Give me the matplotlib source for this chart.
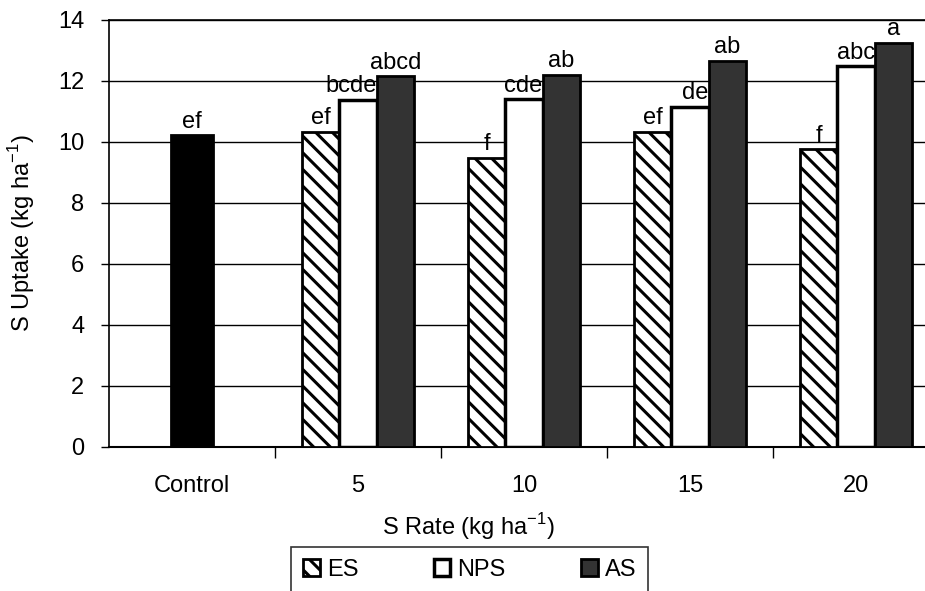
import numpy as np
import matplotlib
matplotlib.use('Agg')
import matplotlib.pyplot as plt

plt.rcParams['font.family'] = ['Liberation Sans', 'DejaVu Sans']
plt.rcParams['hatch.linewidth'] = 2.2

groups = ['Control', '5', '10', '15', '20']
control_val = 10.23
control_lab = 'ef'
es_vals = [10.33, 9.48, 10.33, 9.77]
nps_vals = [11.38, 11.41, 11.15, 12.49]
as_vals = [12.16, 12.20, 12.66, 13.25]
es_labs = ['ef', 'f', 'ef', 'f']
nps_labs = ['bcde', 'cde', 'de', 'abc']
as_labs = ['abcd', 'ab', 'ab', 'a']

fig = plt.figure(figsize=(9.25, 5.91), dpi=100)
ax = fig.add_axes([0.118, 0.2437, 0.882, 0.7225])

w = 0.225
x = np.arange(1, 5)
ax.bar(0, control_val, 0.25, color='black', edgecolor='black', linewidth=2, zorder=3)
b_es = ax.bar(x - w, es_vals, w, color='white', edgecolor='black', hatch='\\\\',
              linewidth=2, zorder=3, label='ES')
b_nps = ax.bar(x, nps_vals, w, color='white', edgecolor='black', linewidth=2.5,
               zorder=3, label='NPS')
b_as = ax.bar(x + w, as_vals, w, color='#333333', edgecolor='black', linewidth=2,
              zorder=3, label='AS')

fs = 17
gap = 0.08
ax.text(0, control_val + gap, control_lab, ha='center', va='bottom', fontsize=fs)
for i in range(4):
    ax.text(x[i] - w, es_vals[i] + gap, es_labs[i], ha='center', va='bottom', fontsize=fs)
    ax.text(x[i] + w / 2, nps_vals[i] + gap, nps_labs[i], ha='right', va='bottom', fontsize=fs)
    ax.text(x[i] + w, as_vals[i] + gap, as_labs[i], ha='center', va='bottom', fontsize=fs)

ax.set_xlim(-0.5, 4.416)
ax.set_ylim(0, 14)
ax.set_yticks(np.arange(0, 15, 2))
ax.yaxis.grid(True, color='black', linewidth=1)
ax.set_axisbelow(True)
ax.tick_params(axis='y', labelsize=fs, length=6, width=1, pad=12)

ax.set_xticks([0.5, 1.5, 2.5, 3.5])
ax.set_xticklabels([])
ax.set_xticks(np.arange(5), minor=True)
ax.set_xticklabels(groups, minor=True)
ax.tick_params(axis='x', which='major', length=8, width=1)
ax.tick_params(axis='x', which='minor', length=0, labelsize=fs, pad=20)

ax.spines['right'].set_visible(False)
ax.spines['top'].set_linewidth(1.2)
ax.spines['left'].set_linewidth(1.2)
ax.spines['bottom'].set_linewidth(1.5)

fig.text(468 / 925, 1 - 527 / 591, 'S Rate (kg ha$^{\\mathregular{-1}}$)',
         ha='center', va='center', fontsize=fs)
fig.text(22 / 925, 1 - 233 / 591, 'S Uptake (kg ha$^{\\mathregular{-1}}$)',
         ha='center', va='center', rotation=90, fontsize=fs)

leg = fig.legend(handles=[b_es, b_nps, b_as], loc='upper center',
                 bbox_to_anchor=(0.508, 1 - 547 / 591), ncol=3, fontsize=fs,
                 handlelength=0.7, handleheight=0.7, handletextpad=0.3,
                 columnspacing=3.2, fancybox=False, edgecolor='black',
                 borderpad=0.5, borderaxespad=0)
leg.get_frame().set_linewidth(1.2)

fig.savefig('out.png', dpi=100)
